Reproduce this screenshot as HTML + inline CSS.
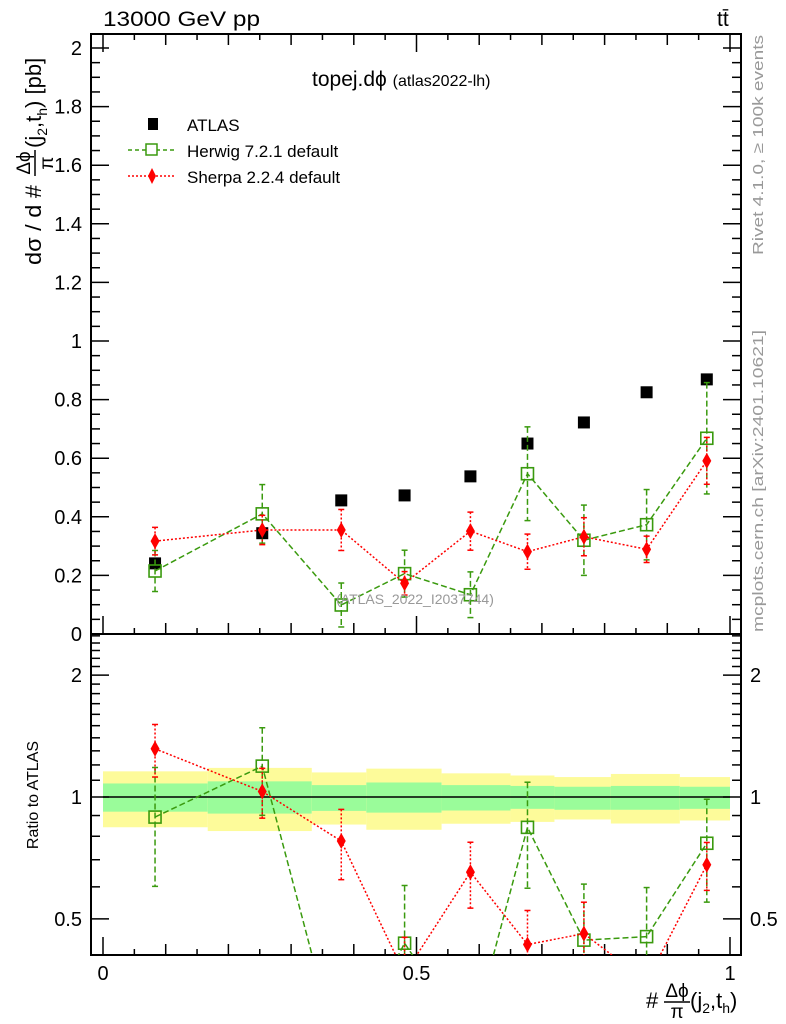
<!DOCTYPE html>
<html><head><meta charset="utf-8"><style>
html,body{margin:0;padding:0;background:#fff;width:786px;height:1024px;overflow:hidden;position:relative;}
svg{display:block;font-family:"Liberation Sans",sans-serif;overflow:hidden;}
</style></head><body>
<svg id="chart" width="786" height="1024" viewBox="0 0 786 1024">
<g id="g"></g>
</svg>
<script>
const binEdges=[0,0.167,0.333,0.42,0.54,0.65,0.72,0.81,0.92,1.0];
const xPoints=[0.083,0.254,0.38,0.481,0.586,0.677,0.767,0.867,0.963];
const atlas=[0.241,0.344,0.456,0.473,0.538,0.65,0.722,0.825,0.869];
const herwig=[0.215,0.41,0.099,0.206,0.134,0.547,0.32,0.373,0.668];
const herwigErr=[0.07,0.1,0.075,0.08,0.078,0.16,0.12,0.12,0.19];
const sherpa=[0.317,0.355,0.355,0.173,0.351,0.281,0.332,0.289,0.591];
const sherpaErr=[0.047,0.05,0.07,0.04,0.065,0.06,0.065,0.045,0.08];
const yellowHi=[1.157,1.18,1.15,1.175,1.144,1.13,1.12,1.14,1.12];
const yellowLo=[0.842,0.824,0.855,0.83,0.859,0.868,0.88,0.86,0.875];
const greenHi=[1.08,1.093,1.07,1.086,1.07,1.065,1.06,1.065,1.06];
const greenLo=[0.92,0.91,0.924,0.915,0.926,0.935,0.93,0.93,0.935];
const yTicks=[0,0.2,0.4,0.6,0.8,1,1.2,1.4,1.6,1.8,2];
const rTicks=[0.5,1,2];
const xTicks=[0,0.5,1];

const NS="http://www.w3.org/2000/svg";
const g=document.getElementById('g');
const L=91,R=741,T=34,M=634,B=955;
const X=v=>103+627*v;
const Y=v=>634-293*v;
const RY=r=>797-405*Math.log10(r);
function el(tag,attrs,parent){const e=document.createElementNS(NS,tag);for(const k in attrs)e.setAttribute(k,attrs[k]);(parent||g).appendChild(e);return e;}

const defs=el('defs',{});
const cp=el('clipPath',{id:'rc'},defs);el('rect',{x:L,y:M,width:R-L,height:B-M},cp);
const cp2=el('clipPath',{id:'mc'},defs);el('rect',{x:L,y:T,width:R-L,height:M-T},cp2);

const bands=el('g',{'clip-path':'url(#rc)'});


for(let i=0;i<yellowHi.length;i++){
  const y1=el('rect',{x:X(binEdges[i]),width:X(binEdges[i+1])-X(binEdges[i]),y:RY(yellowHi[i]),height:RY(yellowLo[i])-RY(yellowHi[i]),fill:'#fdfb9a'},bands);
  
  
  const g1=el('rect',{x:X(binEdges[i]),width:X(binEdges[i+1])-X(binEdges[i]),y:RY(greenHi[i]),height:RY(greenLo[i])-RY(greenHi[i]),fill:'#9afc9a'},bands);
  
  
}
el('line',{x1:X(0),x2:X(1),y1:RY(1),y2:RY(1),stroke:'#000','stroke-width':1.5});

for(const [y0,y1] of [[T,M],[M,B]]){
  const f=el('rect',{x:L,y:y0,width:R-L,height:y1-y0,fill:'none',stroke:'#000','stroke-width':2});
  
  
}
for(let k=0;k<=20;k++){
  const v=k*0.05;const xx=X(v);
  const len=(k%10==0)?18:(k%2==0?11:6);
  for(const [y0,dir] of [[M,-1],[T,1],[B,-1]]){
    el('line',{x1:xx,x2:xx,y1:y0,y2:y0+dir*len,stroke:'#000','stroke-width':1.5});
  }
}
for(let k=0;k<=40;k++){
  const v=k*0.05;const yy=Y(v);if(yy<T)continue;
  const len=(k%4==0)?18:9;
  el('line',{x1:L,x2:L+len,y1:yy,y2:yy,stroke:'#000','stroke-width':1.5});
  el('line',{x1:R,x2:R-len,y1:yy,y2:yy,stroke:'#000','stroke-width':1.5});
}
yTicks.forEach(v=>{
  const t=el('text',{x:82,y:Y(v)+7,'text-anchor':'end','font-size':20});t.textContent=String(v);
  
  
});
const rMinor=[];for(let r=0.4;r<=2.5001;r+=0.1)rMinor.push(Math.round(r*10)/10);
rMinor.forEach(r=>{const yy=RY(r);if(yy<M||yy>B)return;
  const len=(rTicks.includes(r))?18:9;
  el('line',{x1:L,x2:L+len,y1:yy,y2:yy,stroke:'#000','stroke-width':1.5});
  el('line',{x1:R,x2:R-len,y1:yy,y2:yy,stroke:'#000','stroke-width':1.5});
});
rTicks.forEach(r=>{
  const t=el('text',{x:82,y:RY(r)+7,'text-anchor':'end','font-size':20});t.textContent=String(r);
  
  
  const t2=el('text',{x:750,y:RY(r)+7,'font-size':20});t2.textContent=String(r);
  
  
});
xTicks.forEach(v=>{
  const t=el('text',{x:X(v),y:980,'text-anchor':'middle','font-size':20});t.textContent=String(v);
  
  
});

function series(vals,errs,color,dash,marker,name,ratio){
  const grp=el('g',{'clip-path':ratio?'url(#rc)':'url(#mc)'});
  
  
  const yf=ratio?(i,v)=>RY(v/atlas[i]):(i,v)=>Y(v);
  const pts=vals.map((v,i)=>X(xPoints[i])+','+yf(i,Math.max(v,1e-3)));
  el('polyline',{points:pts.join(' '),fill:'none',stroke:color,'stroke-width':1.5,'stroke-dasharray':dash},grp);
  vals.forEach((v,i)=>{
    const xx=X(xPoints[i]);
    const hi=yf(i,v+errs[i]),lo=yf(i,Math.max(v-errs[i],1e-3));
    el('line',{x1:xx,x2:xx,y1:hi,y2:lo,stroke:color,'stroke-width':1.5,'stroke-dasharray':dash},grp);
    el('line',{x1:xx-3,x2:xx+3,y1:hi,y2:hi,stroke:color,'stroke-width':1.5},grp);
    el('line',{x1:xx-3,x2:xx+3,y1:lo,y2:lo,stroke:color,'stroke-width':1.5},grp);
    const yy=yf(i,v);let m;
    if(marker=='sq'){m=el('rect',{x:xx-6,y:yy-6,width:12,height:12,fill:'none',stroke:color,'stroke-width':1.6},grp);}
    else{m=el('polygon',{points:`${xx},${yy-8} ${xx+4.5},${yy} ${xx},${yy+8} ${xx-4.5},${yy}`,fill:color},grp);}
    
    
  });
}
atlas.forEach((v,i)=>{
  const r=el('rect',{x:X(xPoints[i])-6,y:Y(v)-6,width:12,height:12,fill:'#000'});
  
  
});
series(herwig,herwigErr,'#3a9a0e','6,3','sq','herwig-series',false);
series(sherpa,sherpaErr,'#ff0000','2,2','dia','sherpa-series',false);
series(herwig,herwigErr,'#3a9a0e','6,3','sq','herwig-ratio',true);
series(sherpa,sherpaErr,'#ff0000','2,2','dia','sherpa-ratio',true);
</script>
<svg width="786" height="1024" style="position:absolute;left:0;top:0" font-family="Liberation Sans, sans-serif">
<text x="103" y="26" font-size="21" textLength="157" lengthAdjust="spacingAndGlyphs">13000 GeV pp</text>
<text x="717" y="26" font-size="21">tt̄</text>
<text x="312" y="86" font-size="21">topej.dϕ <tspan font-size="16">(atlas2022-lh)</tspan></text>
<text x="415" y="604" font-size="14" fill="#999" text-anchor="middle">(ATLAS_2022_I2037744)</text>
<g>
<rect x="148" y="118" width="10" height="12" fill="#000"/>
<text x="187" y="131" font-size="17">ATLAS</text>
<line x1="128" x2="174" y1="150" y2="150" stroke="#3a9a0e" stroke-width="1.5" stroke-dasharray="4,3"/>
<rect x="146" y="144" width="11" height="11" fill="#fff" stroke="#3a9a0e" stroke-width="1.5"/>
<text x="187" y="157" font-size="17">Herwig 7.2.1 default</text>
<line x1="128" x2="174" y1="176" y2="176" stroke="#f00" stroke-width="1.5" stroke-dasharray="2,2"/>
<polygon points="152,168 156,176 152,184 148,176" fill="#f00"/>
<text x="187" y="183" font-size="17">Sherpa 2.2.4 default</text>
</g>
<g transform="translate(41,265) rotate(-90)">
<text x="0" y="0" font-size="22" textLength="80" lengthAdjust="spacingAndGlyphs">dσ / d #</text>
<text x="102" y="-11" font-size="19" text-anchor="middle">Δϕ</text>
<line x1="89" x2="115" y1="-6" y2="-6" stroke="#000" stroke-width="1.5"/>
<text x="102" y="12" font-size="19" text-anchor="middle">π</text>
<text x="117" y="0" font-size="22">(j<tspan font-size="14" dy="6">2</tspan><tspan dy="-6">,t</tspan><tspan font-size="14" dy="6">h</tspan><tspan dy="-6">) [pb]</tspan></text>
</g>
<text transform="translate(38,795) rotate(-90)" font-size="16" text-anchor="middle">Ratio to ATLAS</text>
<g>
<text x="646" y="1008" font-size="22">#</text>
<text x="677" y="997" font-size="19" text-anchor="middle">Δϕ</text>
<line x1="664" x2="690" y1="1002" y2="1002" stroke="#000" stroke-width="1.5"/>
<text x="677" y="1018" font-size="19" text-anchor="middle">π</text>
<text x="690" y="1008" font-size="22">(j<tspan font-size="14" dy="5">2</tspan><tspan dy="-5">,t</tspan><tspan font-size="14" dy="5">h</tspan><tspan dy="-5">)</tspan></text>
</g>
<text transform="translate(763,255) rotate(-90)" font-size="15" fill="#999" textLength="220" lengthAdjust="spacingAndGlyphs">Rivet 4.1.0, ≥ 100k events</text>
<text transform="translate(763,632) rotate(-90)" font-size="15" fill="#999" textLength="302" lengthAdjust="spacingAndGlyphs">mcplots.cern.ch [arXiv:2401.10621]</text>
</svg>
</body></html>
